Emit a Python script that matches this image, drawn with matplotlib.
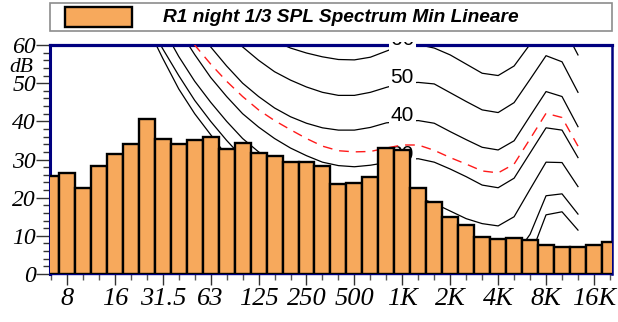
import numpy as np
import matplotlib
matplotlib.use('Agg')
import matplotlib.pyplot as plt
from matplotlib.patches import Rectangle
from matplotlib.ticker import FixedLocator, MultipleLocator

# 1/3 octave bands 6.3 Hz .. 20 kHz (bar index = band index)
bands = ['6.3', '8', '10', '12.5', '16', '20', '25', '31.5', '40', '50', '63', '80',
         '100', '125', '160', '200', '250', '315', '400', '500', '630', '800', '1K',
         '1.25K', '1.6K', '2K', '2.5K', '3.15K', '4K', '5K', '6.3K', '8K', '10K',
         '12.5K', '16K', '20K']
tick_bands = ['8', '16', '31.5', '63', '125', '250', '500', '1K', '2K', '4K', '8K', '16K']

spl_min = [25.7, 26.5, 22.5, 28.3, 31.4, 34.1, 40.6, 35.5, 34.1, 35.1, 36.0, 32.7,
           34.3, 31.6, 30.9, 29.3, 29.4, 28.2, 23.7, 23.8, 25.3, 32.9, 32.5, 22.6,
           18.9, 15.0, 12.8, 9.6, 9.3, 9.4, 8.8, 7.7, 7.1, 7.2, 7.5, 8.5]

# equal loudness curves, 20 Hz .. 12.5 kHz
curve_bands = bands[5:34]
phon_0 = [74, 65, 56.5, 48.5, 42, 36.5, 31, 26.5, 22.5, 19, 16, 13, 10.5, 8.5, 7, 5.5,
          4.5, 4, 4, 3, 1, -1, -2.5, -3, -1, 4.5, 15.5, 16.3, 11.5]
phon_10 = [80, 66.5, 59, 52, 45.5, 40, 35, 30.5, 27, 24, 21, 18.5, 16.5, 14.5, 13, 12,
           11, 10, 9.5, 8, 6, 4.5, 3.5, 3, 4.5, 10.4, 20.5, 21.0, 15.7]
phon_20 = [86, 72, 64.5, 57, 50.5, 45, 40, 35.5, 32, 29, 26.5, 24.5, 23, 22, 21.3, 21,
           20.5, 20, 20, 18.5, 16.5, 14.5, 13.2, 12.6, 15, 22.2, 29.3, 29.2, 22.9]
phon_30 = [92, 80, 71, 64, 57.5, 51.5, 46.5, 42, 38.5, 35.5, 33, 31, 29.3, 28.4, 28.1,
           28.5, 29.2, 30, 30.2, 29.3, 27.5, 25.5, 23.3, 22.6, 25.1, 31.7, 38.3, 37.7, 30.5]
phon_40 = [105, 95, 84, 73, 64, 59.5, 54.5, 50, 46.5, 43.5, 41.2, 39.5, 38.3, 37.7, 37.7,
           38.4, 39.6, 40, 40.2, 39.5, 37.3, 35.2, 33.2, 32.5, 34.9, 41.4, 47.8, 46.5, 38.6]
phon_50 = [110, 100, 90, 81, 74, 68, 63, 59.5, 56, 53, 50.8, 49, 47.6, 46.8, 46.8, 47.6,
           48.9, 50, 50.2, 49.8, 47.5, 45.2, 43, 42.3, 44.9, 51, 57.2, 55.6, 47.6]
phon_60 = [115, 106, 98, 90, 83, 77, 72, 68, 64.5, 61, 59.2, 57.9, 56.9, 56.2, 56.1, 56.8,
           58.4, 60, 60.1, 59.2, 57.4, 55, 52.6, 52, 54.5, 60.2, 66.5, 65.4, 57.4]
ref_curve = [100, 88, 78, 68, 60, 55, 50.5, 46.5, 43, 40.2, 37.8, 35.5, 33.5, 32.3, 32,
             32.1, 33, 33.8, 33.8, 32.4, 30.5, 28.8, 27, 26.5, 28.8, 35.4, 42.1, 41, 33.5]

curves = [phon_0, phon_10, phon_20, phon_30, phon_40, phon_50, phon_60]
curve_labels = [None, None, None, '30', '40', '50', '60']

legend_text = 'R1 night 1/3 SPL Spectrum Min Lineare'
BAR_FILL = '#f7a95c'

W, H = 618, 322
fig = plt.figure(figsize=(W / 100, H / 100), dpi=100)
ax = fig.add_axes([50 / W, 48 / H, 562 / W, 229 / H])

x = np.arange(len(bands))
xc = np.array([bands.index(b) for b in curve_bands])
serif = 'Liberation Serif'
sans = 'Liberation Sans'

# contour lines, label sits on the 1K point
clip = Rectangle((0, -0.01), 1, 1.022, transform=ax.transAxes)
i1k = curve_bands.index('1K')
for vals, lab in zip(curves, curve_labels):
    ax.plot(xc, vals, color='black', lw=0.9, zorder=2)
    if lab:
        t = ax.text(xc[i1k], vals[i1k], lab, ha='center', va='baseline',
                    family=sans, fontsize=15, zorder=2.6, clip_on=True,
                    bbox=dict(facecolor='white', edgecolor='none', pad=1.5))
        t.set_clip_path(clip)
ax.plot(xc, ref_curve, color='#ff1a1a', lw=1.0, dashes=(7, 5), zorder=2.7)

bars = ax.bar(x, spl_min, width=1.0, color=BAR_FILL, edgecolor='black',
              linewidth=1.7, zorder=3)

ax.set_xlim(-0.06, 35.13)
ax.set_ylim(0, 60)

for side, lw in (('top', 2.3), ('left', 2.2), ('right', 1.8), ('bottom', 1.0)):
    ax.spines[side].set_color('#000080')
    ax.spines[side].set_linewidth(lw)

ax.set_xticks([bands.index(b) for b in tick_bands])
ax.set_xticklabels(tick_bands)
ax.xaxis.set_minor_locator(FixedLocator(x))
ax.yaxis.set_major_locator(MultipleLocator(10))
ax.yaxis.set_minor_locator(MultipleLocator(2))
ax.tick_params(axis='x', which='major', length=8, width=1.0, color='#333333', pad=2)
ax.tick_params(axis='x', which='minor', length=4, width=1.0, color='#555555')
ax.tick_params(axis='y', which='major', length=10, width=1.0, color='#333333', pad=0)
ax.tick_params(axis='y', which='minor', length=5, width=1.0, color='#333333')
for lbl in ax.get_xticklabels():
    lbl.set_family(serif)
    lbl.set_style('italic')
    lbl.set_fontsize(19)
for lbl in ax.get_yticklabels():
    lbl.set_family(serif)
    lbl.set_style('italic')
    lbl.set_fontsize(17)

fig.text(21 / W, 1 - 67 / H, 'dB', ha='center', va='center', family=serif,
         style='italic', fontsize=15.5)

# legend box drawn by hand
fig.add_artist(Rectangle((50 / W, 1 - 31 / H), 562 / W, 28 / H, transform=fig.transFigure,
                         facecolor='white', edgecolor='#8c8c8c', lw=1.2))
fig.add_artist(Rectangle((65 / W, 1 - 27 / H), 67 / W, 20 / H, transform=fig.transFigure,
                         facecolor=BAR_FILL, edgecolor='black', lw=1.7))
fig.text(163 / W, 1 - 17 / H, legend_text, ha='left', va='center', family=sans,
         weight='bold', style='italic', fontsize=13.8)

fig.savefig('out.png', dpi=100)
